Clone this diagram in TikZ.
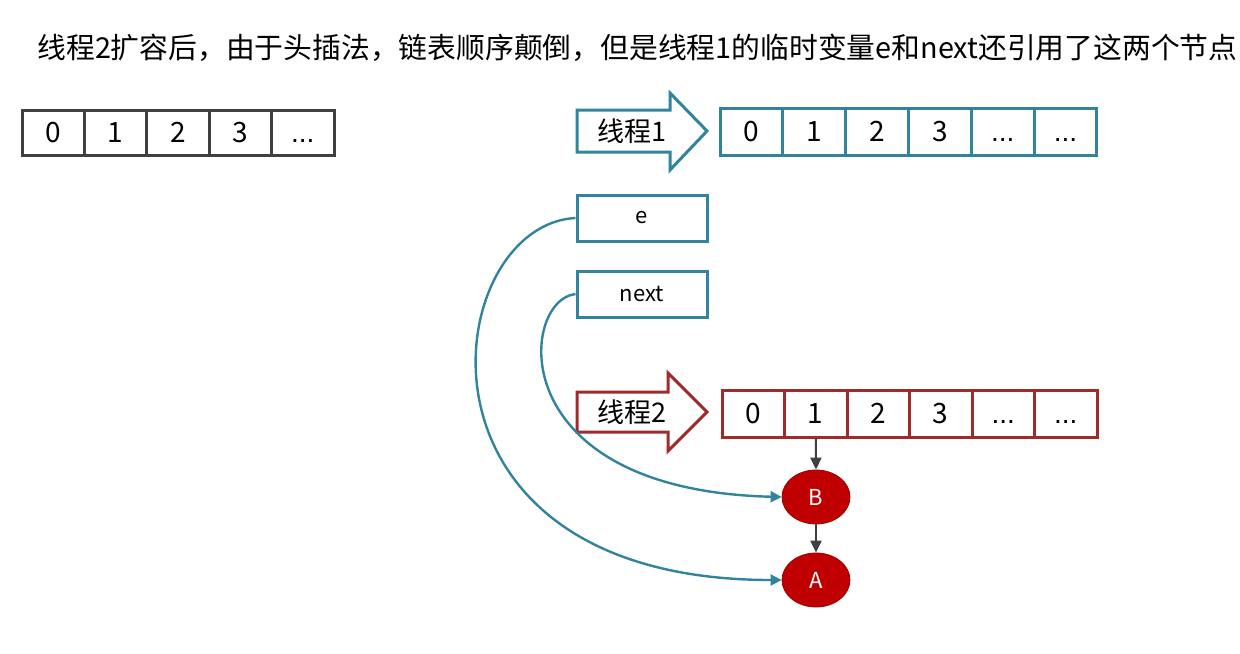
\documentclass[tikz,border=0pt]{standalone}
\usepackage{fontspec}
\setmainfont{Noto Sans CJK SC}
\newfontfamily\latinfont{Liberation Sans}
\usetikzlibrary{arrows.meta, shapes.geometric}

\definecolor{tealc}{HTML}{31849B}
\definecolor{redc}{HTML}{A02B2B}
\definecolor{grayc}{HTML}{404040}
\definecolor{nodered}{HTML}{C00000}

\newcommand\moredots{{\latinfont ...}}

\tikzset{
  cellg/.style={draw=grayc, line width=1.5pt, minimum width=31.2pt, minimum height=22.5pt, inner sep=0pt, text height=10pt, text depth=0pt, font=\fontsize{14}{16}\selectfont},
  cellb/.style={cellg, draw=tealc, minimum width=31.4pt, minimum height=23.5pt},
  cellr/.style={cellg, draw=redc, minimum width=31.25pt, minimum height=23.5pt},
  varbox/.style={draw=tealc, line width=1.5pt, minimum width=65pt, minimum height=23pt, inner sep=0pt, font=\fontsize{11}{13}\selectfont},
  listnode/.style={ellipse, draw=nodered!80!black, fill=nodered, minimum width=34pt, minimum height=27pt, inner sep=0pt, text=white, font=\fontsize{11}{13}\selectfont},
  link/.style={draw=tealc, line width=1.2pt, -{Triangle[length=5.5pt, width=5.5pt]}},
  nextptr/.style={draw=grayc, line width=1pt, -{Triangle[length=6pt, width=5.5pt]}}
}

\begin{document}
\begin{tikzpicture}[x=0.5pt, y=-0.5pt]
\useasboundingbox (0,0) rectangle (1240,653);

\node[anchor=west, inner sep=0pt, font=\fontsize{14.4}{17}\selectfont] (title) at (37,48)
  {线程2扩容后，由于头插法，链表顺序颠倒，但是线程1的临时变量e和next还引用了这两个节点};

% original table
\foreach \v [count=\i from 0] in {0,1,2,3,\moredots}
  \node[cellg] (old\i) at ({53.2+62.4*\i},132.5) {\v};

% thread 1
\draw[draw=tealc, line width=1.5pt, line join=miter] (577,110) -- (670,110) -- (670,93) -- (707,131)
  -- (670,170) -- (670,152) -- (577,152) -- cycle;
\node[font=\fontsize{13.5}{15}\selectfont] (th1) at (632,131) {线程1};
\foreach \v [count=\i from 0] in {0,1,2,3,\moredots,\moredots}
  \node[cellb] (ta\i) at ({751.4+62.83*\i},131.5) {\v};

\node[varbox] (e) at (642,218) {e};
\node[varbox] (next) at (642,294) {next};

% thread 2
\draw[draw=redc, line width=1.5pt, line join=miter] (577,392) -- (668,392) -- (668,373) -- (707,412)
  -- (668,451) -- (668,432) -- (577,432) -- cycle;
\node[font=\fontsize{13.5}{15}\selectfont] (th2) at (632,412) {线程2};
\foreach \v [count=\i from 0] in {0,1,2,3,\moredots,\moredots}
  \node[cellr] (tb\i) at ({753.25+62.5*\i},413.5) {\v};

\node[listnode] (B) at (816,497) {B};
\node[listnode] (A) at (816,580) {A};

\draw[nextptr] (tb1.south) -- (B.north);
\draw[nextptr] (B.south) -- (A.north);

\draw[link] (e.west) .. controls (440,225) and (390,580) .. (A.west);
\draw[link] (next.west) .. controls (520,300) and (500,490) .. (B.west);
\end{tikzpicture}
\end{document}
